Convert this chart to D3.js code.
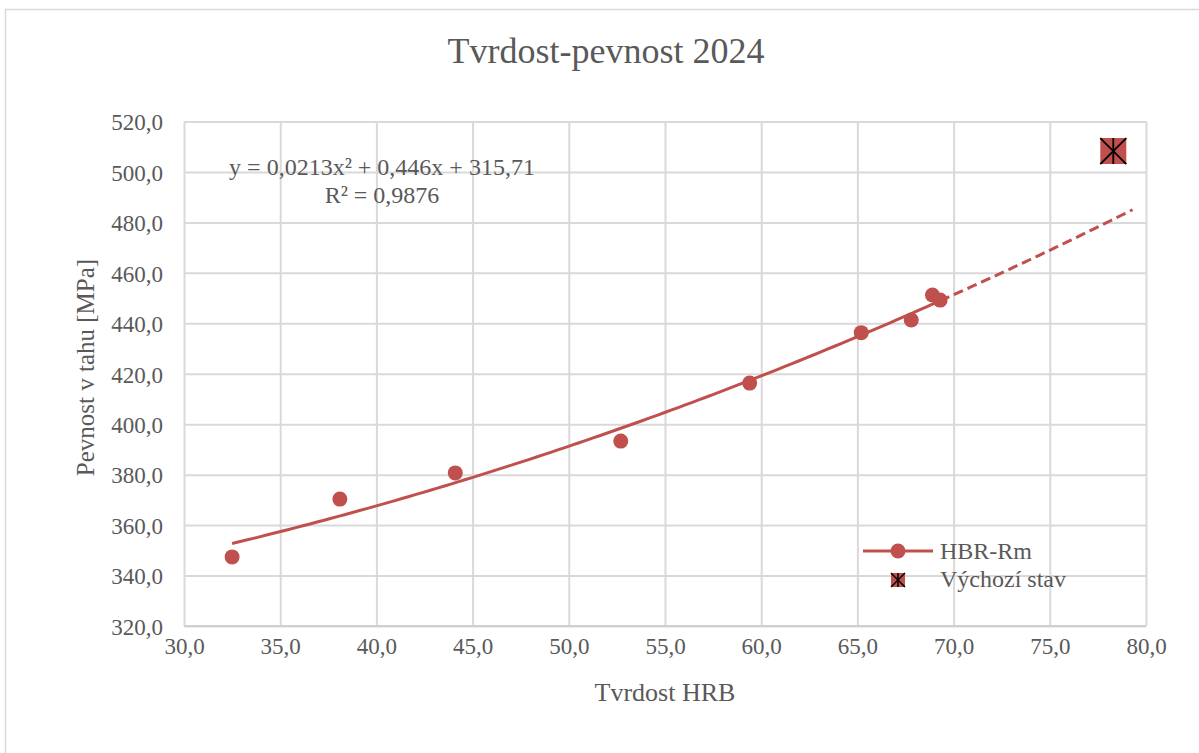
<!DOCTYPE html>
<html>
<head>
<meta charset="utf-8">
<script src="https://cdn.jsdelivr.net/npm/d3@7"></script>
<style>
  body { margin: 0; background: #fff; }
  text { font-family: "Liberation Serif", "Times New Roman", serif; fill: #595959; }
</style>
</head>
<body>
<div id="chart"></div>
<script>
// data
var hrb = [32.5, 38.1, 44.1, 52.7, 59.4, 65.2, 67.8, 68.9, 69.3];
var rm = [347.4, 370.3, 380.7, 393.3, 416.3, 436.3, 441.3, 451.2, 449.2];
var startHrb = [78.3];
var startRm = [508.3];
var trendCoef = [0.0213, 0.446, 315.71]; // a x^2 + b x + c
var trendForward = 10;
var xTicks = [30, 35, 40, 45, 50, 55, 60, 65, 70, 75, 80];
var yTicks = [320, 340, 360, 380, 400, 420, 440, 460, 480, 500, 520];
var seriesNames = ["HBR-Rm", "Výchozí stav"];
var eqLines = ["y = 0,0213x² + 0,446x + 315,71", "R² = 0,9876"];

var svgWidth = 1199;
var svgHeight = 753;
var margin = { top: 121.5, right: 53, bottom: 127, left: 184 };
var width = svgWidth - margin.left - margin.right;
var height = svgHeight - margin.top - margin.bottom;
var red = "#C0504D";
var serif = "'Liberation Serif', 'Times New Roman', serif";

var loc = d3.formatLocale({ decimal: ",", thousands: " ", grouping: [3], currency: ["", ""] });
var fmt = loc.format(".1f");

var svg = d3.select("#chart").append("svg")
  .attr("width", svgWidth)
  .attr("height", svgHeight);

// outer chart border
svg.append("rect")
  .attr("x", 5.5).attr("y", 9.5)
  .attr("width", 1300).attr("height", 900)
  .attr("fill", "none").attr("stroke", "#d9d9d9").attr("stroke-width", 1.5);

var g = svg.append("g").attr("transform", `translate(${margin.left}, ${margin.top})`);

var x = d3.scaleLinear().domain([30, 80]).range([0, width]);
var y = d3.scaleLinear().domain([320, 520]).range([height, 0]);

// grid + axes
var xAxis = g.append("g")
  .attr("transform", `translate(0, ${height})`)
  .call(d3.axisBottom(x).tickValues(xTicks).tickSize(-height).tickPadding(12).tickFormat(fmt));
var yAxis = g.append("g")
  .call(d3.axisLeft(y).tickValues(yTicks).tickSize(-width).tickPadding(21).tickFormat(fmt));

[xAxis, yAxis].forEach(function(ax) {
  ax.attr("font-family", serif).attr("font-size", 23);
  ax.select(".domain").remove();
  ax.selectAll("line").attr("stroke", "#d9d9d9").attr("stroke-width", 2);
  ax.selectAll("text").attr("fill", "#595959");
});
xAxis.selectAll("text").attr("dy", "0.71em");
yAxis.selectAll("text").attr("dy", "0.36em");

// bottom axis line (slightly darker)
g.append("line")
  .attr("x1", 0).attr("x2", width)
  .attr("y1", height).attr("y2", height)
  .attr("stroke", "#d0d0d0").attr("stroke-width", 2);

// trend line (polynomial, order 2)
function trend(v) { return trendCoef[0] * v * v + trendCoef[1] * v + trendCoef[2]; }
var xMin = d3.min(hrb), xMax = d3.max(hrb);
var solidPts = d3.range(0, 101).map(function(i) { var v = xMin + (xMax - xMin) * i / 100; return [v, trend(v)]; });
var dashPts = d3.range(0, 51).map(function(i) { var v = xMax + trendForward * i / 50; return [v, trend(v)]; });
var line = d3.line().x(d => x(d[0])).y(d => y(d[1]));

g.append("path").datum(solidPts).attr("d", line)
  .attr("fill", "none").attr("stroke", red).attr("stroke-width", 3);
g.append("path").datum(dashPts).attr("d", line)
  .attr("fill", "none").attr("stroke", red).attr("stroke-width", 3)
  .attr("stroke-dasharray", "10,5");

// data points
g.selectAll("circle.pt")
  .data(hrb.map(function(v, i) { return [v, rm[i]]; }))
  .enter()
  .append("circle")
  .attr("class", "pt")
  .attr("cx", d => x(d[0]))
  .attr("cy", d => y(d[1]))
  .attr("r", 7.5)
  .attr("fill", red);

// asterisk-in-square marker
function starMarker(sel, cx, cy, s) {
  var h = s / 2;
  var m = sel.append("g").attr("transform", `translate(${cx}, ${cy})`);
  m.append("rect").attr("x", -h).attr("y", -h).attr("width", s).attr("height", s).attr("fill", red);
  var sw = s > 20 ? 1.8 : 1.5;
  m.append("line").attr("x1", -h).attr("y1", -h).attr("x2", h).attr("y2", h).attr("stroke", "#000").attr("stroke-width", sw);
  m.append("line").attr("x1", h).attr("y1", -h).attr("x2", -h).attr("y2", h).attr("stroke", "#000").attr("stroke-width", sw);
  m.append("line").attr("x1", 0).attr("y1", -h).attr("x2", 0).attr("y2", h).attr("stroke", "#000").attr("stroke-width", sw);
}
startHrb.forEach(function(v, i) { starMarker(g, x(v), y(startRm[i]), 26); });

// trend equation
var eq = g.append("text").attr("font-size", "24px").attr("text-anchor", "middle");
eq.append("tspan").attr("x", 198).attr("y", 53).text(eqLines[0]);
eq.append("tspan").attr("x", 198).attr("y", 81).text(eqLines[1]);

// legend
var lg = svg.append("g");
lg.append("line").attr("x1", 863).attr("x2", 933).attr("y1", 551).attr("y2", 551)
  .attr("stroke", red).attr("stroke-width", 3);
lg.append("circle").attr("cx", 898).attr("cy", 551).attr("r", 7.5).attr("fill", red);
lg.append("text").attr("x", 940).attr("y", 559).attr("font-size", "24px").text(seriesNames[0]);
starMarker(lg, 898, 580, 14);
lg.append("text").attr("x", 940).attr("y", 587).attr("font-size", "24px").text(seriesNames[1]);

// title
svg.append("text")
  .attr("x", 606).attr("y", 63)
  .attr("text-anchor", "middle")
  .attr("font-size", "36px")
  .text("Tvrdost-pevnost 2024");

// axis titles
svg.append("text")
  .attr("transform", "translate(94, 367.5) rotate(-90)")
  .attr("text-anchor", "middle")
  .attr("font-size", "25px")
  .text("Pevnost v tahu [MPa]");

svg.append("text")
  .attr("x", 665).attr("y", 701)
  .attr("text-anchor", "middle")
  .attr("font-size", "26px")
  .text("Tvrdost HRB");
</script>
</body>
</html>
